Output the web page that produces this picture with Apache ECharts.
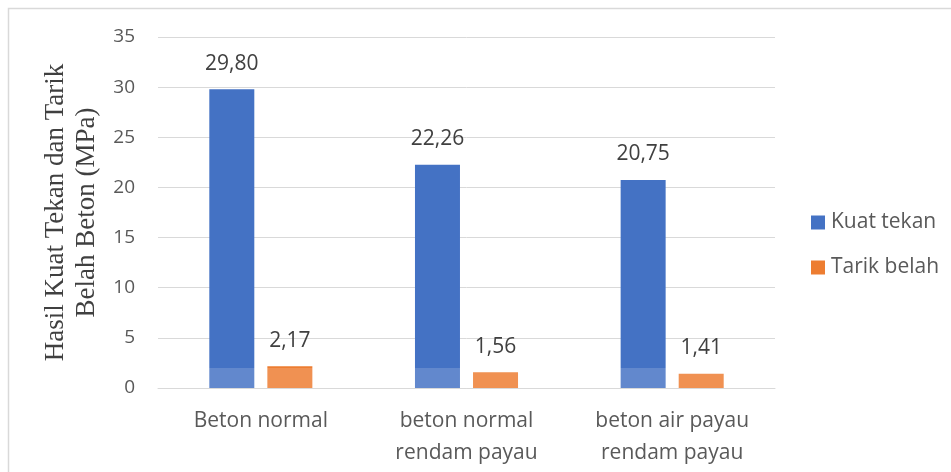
<!DOCTYPE html>
<html>
<head>
<meta charset="utf-8">
<script src="https://cdn.jsdelivr.net/npm/echarts@6/dist/echarts.min.js"></script>
<style>
  html, body { margin: 0; padding: 0; background: #fff; }
  #chart { width: 951px; height: 472px; }
</style>
</head>
<body>
<div id="chart"></div>
<script>
// Concrete strength results per specimen group
const categories = ['Beton normal', 'beton normal\nrendam payau', 'beton air payau\nrendam payau'];
const kuatTekan = [29.80, 22.26, 20.75];
const tarikBelah = [2.17, 1.56, 1.41];
const yTicks = { min: 0, max: 35, interval: 5 };

const sansFont = 'Open Sans';
const fmt = p => p.value.toFixed(2).replace('.', ',');

const chart = echarts.init(document.getElementById('chart'), null, { renderer: 'canvas' });

const valueLabel = {
  show: true, position: 'top', distance: 15, formatter: fmt,
  fontFamily: sansFont, fontSize: 21, color: '#404040'
};

chart.setOption({
  animation: false,
  backgroundColor: '#ffffff',
  grid: { left: 158, right: 176, top: 37, bottom: 84 },
  legend: {
    orient: 'vertical',
    left: 811,
    top: 212,
    padding: 0,
    itemWidth: 14,
    itemHeight: 14,
    itemGap: 24,
    icon: 'rect',
    textStyle: { fontFamily: sansFont, fontSize: 21, lineHeight: 21, color: '#595959', padding: [0, 0, 0, 1] },
    data: ['Kuat tekan', 'Tarik belah']
  },
  xAxis: {
    type: 'category',
    data: categories,
    axisLine: { lineStyle: { color: '#d9d9d9', width: 1 } },
    axisTick: { show: false },
    axisLabel: {
      fontFamily: sansFont, fontSize: 21, color: '#595959',
      lineHeight: 32, margin: 17, interval: 0
    }
  },
  yAxis: {
    type: 'value',
    min: yTicks.min, max: yTicks.max, interval: yTicks.interval,
    name: 'Hasil Kuat Tekan dan Tarik\nBelah Beton (MPa)',
    nameLocation: 'middle',
    nameRotate: 90,
    nameGap: 44,
    nameTextStyle: {
      fontFamily: 'Liberation Serif', fontSize: 27, color: '#404040',
      lineHeight: 31, align: 'center'
    },
    axisLine: { show: false },
    axisTick: { show: false },
    axisLabel: { fontFamily: sansFont, fontSize: 19, color: '#595959', margin: 23 },
    splitLine: { lineStyle: { color: '#d9d9d9', width: 1 } }
  },
  series: [
    {
      name: 'Kuat tekan',
      type: 'bar',
      data: kuatTekan,
      barWidth: 45,
      barGap: '29%',
      itemStyle: { color: '#4472C4' },
      label: valueLabel
    },
    {
      name: 'Tarik belah',
      type: 'bar',
      data: tarikBelah,
      barWidth: 45,
      barGap: '29%',
      itemStyle: { color: '#ED7D31' },
      label: valueLabel
    }
  ],
  graphic: [
    // outer frame of the chart area
    {
      type: 'rect', silent: true, z: 100,
      shape: { x: 8.5, y: 8.5, width: 960, height: 480 },
      style: { fill: 'none', stroke: '#d9d9d9', lineWidth: 1.5 }
    },
    // faint light band across the bar bases
    {
      type: 'rect', silent: true, z: 100,
      shape: { x: 158, y: 368, width: 617, height: 20 },
      style: { fill: 'rgba(255,255,255,0.16)' }
    }
  ]
});
</script>
</body>
</html>
